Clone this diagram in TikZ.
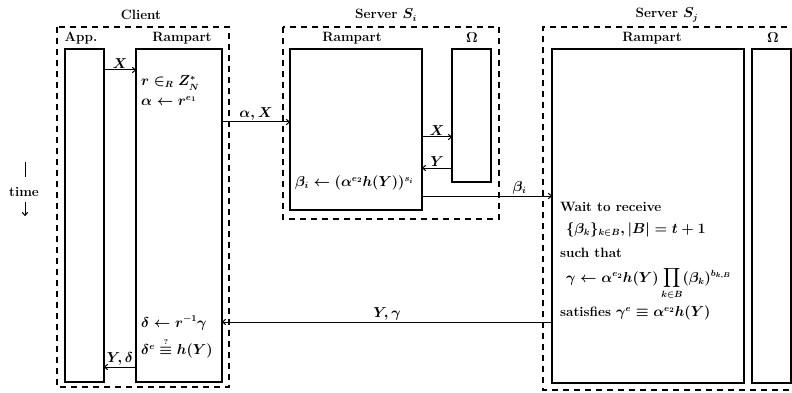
\documentclass[tikz,border=0pt]{standalone}
\usepackage{amsmath,amssymb}
\usetikzlibrary{arrows.meta,calc}
\begin{document}
\begin{tikzpicture}[x=1pt,y=-1pt,
  font=\fontsize{13.5}{16}\selectfont\bfseries\boldmath,
  box/.style={draw,line width=1.1pt,inner sep=0pt,outer sep=0pt},
  group/.style={draw,line width=1.1pt,dash pattern=on 6pt off 5pt},
  lbl/.style={inner sep=1pt},
  txt/.style={anchor=west,inner sep=0pt},
  msg/.style={line width=1pt,-{To[length=4pt,width=6pt]}}]
\clip (0,0) rectangle (792,393);
\fill[white] (0,0) rectangle (792,393);
% group boxes
\draw[group] (57,27) rectangle (229,387);
\draw[group] (283,27) rectangle (499,219);
\draw[group] (820,27) -- (543,27) -- (543,390) -- (820,390);
% titles
\node[lbl] (tcl) at (141,15) {Client};
\node[lbl] (tsi) at (386,15) {Server $S_i$};
\node[lbl] (tsj) at (667,15) {Server $S_j$};
\node[lbl] (lapp) at (81,38) {App.};
\node[lbl] (lcrp) at (182,38) {Rampart};
\node[lbl] (lsirp) at (352,38) {Rampart};
\node[lbl] (lsiom) at (472,38) {$\Omega$};
\node[lbl] (lsjrp) at (652,38) {Rampart};
\node[lbl] (lsjom) at (773,38) {$\Omega$};
% boxes
\node[box,minimum width=39pt,minimum height=333pt] (app) at (84.5,215.5) {};
\node[box,minimum width=86pt,minimum height=333pt] (crp) at (179,215.5) {};
\node[box,minimum width=132pt,minimum height=161pt] (sirp) at (356,129.5) {};
\node[box,minimum width=39pt,minimum height=133pt] (siom) at (471.5,115.5) {};
\node[box,minimum width=192pt,minimum height=334pt] (sjrp) at (648,216) {};
\node[box,minimum width=39pt,minimum height=334pt] (sjom) at (771.5,216) {};
% messages
\draw[msg] (app.east |- 0,70) -- (crp.west |- 0,70) node[lbl,midway,above] (mx) {$X$};
\draw[msg] (crp.east |- 0,122) -- (sirp.west |- 0,122) node[lbl,midway,above] (max) {$\alpha, X$};
\draw[msg] (sirp.east |- 0,137) -- (siom.west |- 0,137) node[lbl,midway,above] (mx2) {$X$};
\draw[msg] (siom.west |- 0,168) -- (sirp.east |- 0,168) node[lbl,midway,above] (my) {$Y$};
\draw[msg] (sirp.east |- 0,196) -- (sjrp.west |- 0,196) node[lbl,pos=0.75,above] (mb) {$\beta_i$};
\draw[msg] (sjrp.west |- 0,322) -- (crp.east |- 0,322) node[lbl,midway,above] (myg) {$Y, \gamma$};
\draw[msg] (crp.west |- 0,367) -- (app.east |- 0,367) node[lbl,midway,above] (myd) {$Y, \delta$};
% box texts
\node[txt] (c1) at (141,83) {$r \in_R Z_N^*$};
\node[txt] (c2) at (141,101) {$\alpha \leftarrow r^{e_1}$};
\node[txt] (c3) at (141,323) {$\delta \leftarrow r^{-1}\gamma$};
\node[txt] (c4) at (141,351) {$\delta^e \stackrel{\smash{\scriptscriptstyle ?}}{\equiv} h(Y)$};
\node[txt] (s1) at (295,183) {$\beta_i \leftarrow (\alpha^{e_2}h(Y))^{s_i}$};
\node[txt] (j1) at (560,207) {Wait to receive};
\node[txt] (j2) at (566,230) {$\{\beta_k\}_{k\in B}, |B| = t+1$};
\node[txt] (j3) at (560,253) {such that};
\node[txt,anchor=base west] (j4) at (566,282) {$\gamma \leftarrow \alpha^{e_2}h(Y)\displaystyle\prod_{k\in B}(\beta_k)^{b_{k,B}}$};
\node[txt] (j5) at (560,313) {satisfies $\gamma^e \equiv \alpha^{e_2}h(Y)$};
% time
\node[lbl] (time) at (24,192) {time};
\coordinate (t1) at (25,162);
\coordinate (t2) at (25,177);
\coordinate (t3) at (25,202);
\coordinate (t4) at (25,216);
\draw[line width=1pt] (t1) -- (t2);
\draw[line width=1pt,-{To[length=4pt,width=6pt]}] (t3) -- (t4);
\end{tikzpicture}
\end{document}
